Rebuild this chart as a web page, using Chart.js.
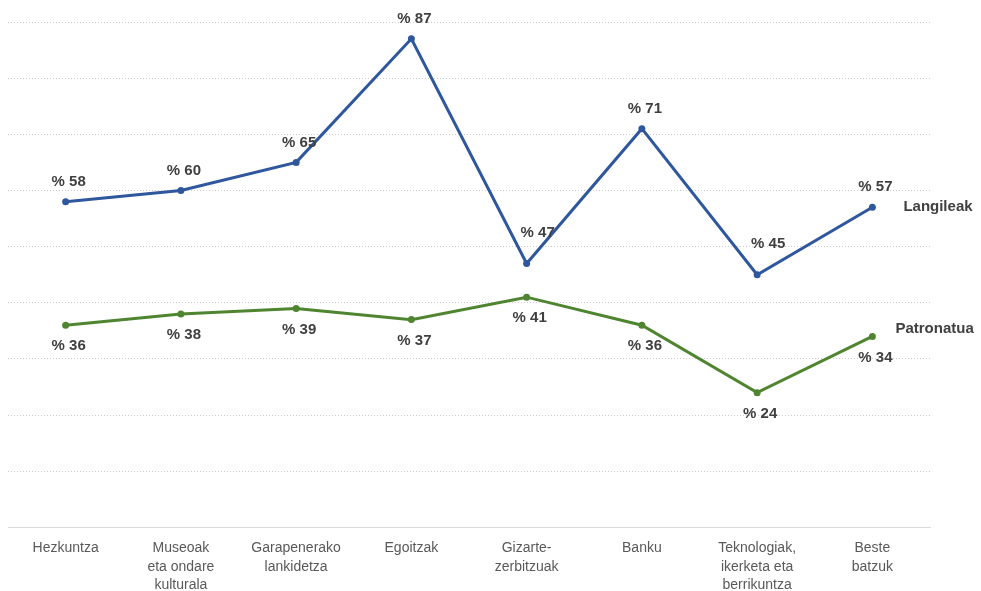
<!DOCTYPE html>
<html>
<head>
<meta charset="utf-8">
<script src="https://cdn.jsdelivr.net/npm/chart.js@4.4.1/dist/chart.umd.min.js"></script>
<style>
    html, body { margin: 0; padding: 0; background: #ffffff; }
    #wrap { width: 981px; height: 591px; position: relative; }
</style>
</head>
<body>
<div id="wrap"><canvas id="lineChart"></canvas></div>
<script>
const categories = [
    "Hezkuntza",
    ["Museoak", "eta ondare", "kulturala"],
    ["Garapenerako", "lankidetza"],
    "Egoitzak",
    ["Gizarte-", "zerbitzuak"],
    "Banku",
    ["Teknologiak,", "ikerketa eta", "berrikuntza"],
    ["Beste", "batzuk"]
];
const langileak = [58, 60, 65, 87, 47, 71, 45, 57];
const patronatua = [36, 38, 39, 37, 41, 36, 24, 34];
const seriesNames = ["Langileak", "Patronatua"];

const blue = "#2E579E";
const green = "#4F8530";
const labelColor = "#404040";

// draws "% nn" next to each point plus the series name at the end of the line
const labelPlugin = {
    id: "pointLabels",
    afterDatasetsDraw(chart) {
        const ctx = chart.ctx;
        ctx.save();
        ctx.font = "bold 15px 'Liberation Sans', Arial, sans-serif";
        ctx.fillStyle = labelColor;
        ctx.textAlign = "center";
        ctx.textBaseline = "middle";
        chart.data.datasets.forEach((ds, di) => {
            const meta = chart.getDatasetMeta(di);
            const vals = ds.data;
            meta.data.forEach((pt, i) => {
                let dx = 3, dy = di === 0 ? -20 : 21;
                // upper series: push labels of valleys clear of the line
                if (di === 0 && i > 0 && i < vals.length - 1 &&
                    vals[i] < vals[i - 1] && vals[i] < vals[i + 1]) {
                    dx = 11;
                    dy = -31;
                }
                ctx.fillText("% " + vals[i], pt.x + dx, pt.y + dy);
            });
            const last = meta.data[meta.data.length - 1];
            ctx.textAlign = "left";
            ctx.fillText(seriesNames[di], last.x + (di === 0 ? 31 : 23), last.y + (di === 0 ? 0 : -8));
            ctx.textAlign = "center";
        });
        ctx.restore();
    }
};

new Chart(document.getElementById("lineChart"), {
    type: "line",
    data: {
        labels: categories,
        datasets: [{
            label: seriesNames[0],
            data: langileak,
            borderColor: blue,
            backgroundColor: blue,
            borderWidth: 3,
            pointRadius: 3.5,
            pointBorderWidth: 0,
            tension: 0
        }, {
            label: seriesNames[1],
            data: patronatua,
            borderColor: green,
            backgroundColor: green,
            borderWidth: 3,
            pointRadius: 3.5,
            pointBorderWidth: 0,
            tension: 0
        }]
    },
    options: {
        responsive: true,
        maintainAspectRatio: false,
        animation: false,
        layout: {
            padding: { left: 8, right: 51, top: 22, bottom: -15 }
        },
        plugins: {
            legend: { display: false },
            tooltip: { enabled: false }
        },
        scales: {
            x: {
                offset: true,
                grid: { display: false, drawTicks: false },
                border: { display: true, color: "#d9d9d9", width: 1 },
                ticks: {
                    color: "#595959",
                    font: { family: "'Liberation Sans', Arial, sans-serif", size: 14, lineHeight: 1.3 },
                    maxRotation: 0,
                    autoSkip: false,
                    padding: 12
                }
            },
            y: {
                min: 0,
                max: 90,
                grid: {
                    color: "#cccccc",
                    lineWidth: 1,
                    drawTicks: false
                },
                border: { display: false, dash: [1, 2] },
                ticks: { display: false, stepSize: 10 }
            }
        }
    },
    plugins: [labelPlugin]
});
</script>
</body>
</html>
